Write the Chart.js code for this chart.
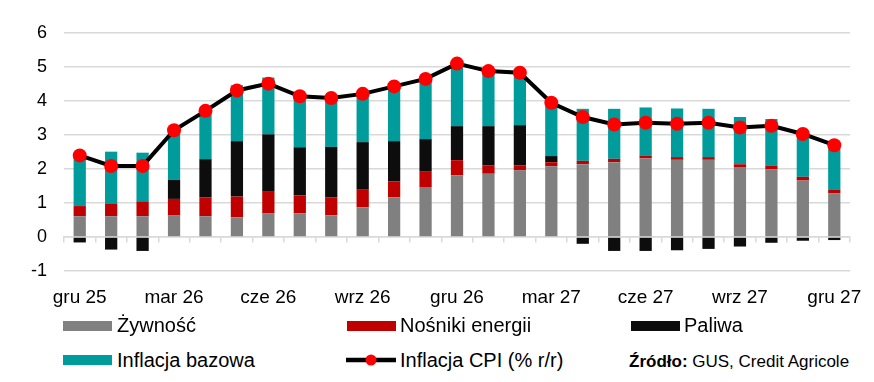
<!DOCTYPE html>
<html lang="pl">
<head>
<meta charset="utf-8">
<script src="https://cdn.jsdelivr.net/npm/chart.js@4"></script>
<style>
  html, body { margin: 0; padding: 0; background: #fff; }
  body { width: 874px; height: 382px; position: relative; overflow: hidden; font-family: "Liberation Sans", Arial, sans-serif; color: #000; }
  #wrap { position: absolute; left: 0; top: 0; width: 874px; height: 320px; }
  .lg { position: absolute; font-size: 20px; line-height: 20px; white-space: nowrap; }
  .sw { position: absolute; width: 49px; height: 10px; }
  .src { position: absolute; font-size: 17px; line-height: 18px; white-space: nowrap; }
</style>
</head>
<body>
<div id="wrap"><canvas id="c"></canvas></div>

<div class="sw" style="left:63px;top:321px;background:#808080"></div>
<div class="lg" style="left:117px;top:315px">Żywność</div>
<div class="sw" style="left:347px;top:321px;background:#C00000"></div>
<div class="lg" style="left:400px;top:315px">Nośniki energii</div>
<div class="sw" style="left:631px;top:321px;background:#0D0D0D"></div>
<div class="lg" style="left:684px;top:315px">Paliwa</div>

<div class="sw" style="left:63px;top:355px;background:#009B9B"></div>
<div class="lg" style="left:117px;top:350px">Inflacja bazowa</div>
<svg style="position:absolute;left:345px;top:352px" width="52" height="16">
  <line x1="1" y1="8" x2="51" y2="8" stroke="#000" stroke-width="4.5"/>
  <circle cx="26" cy="8" r="5.5" fill="#FF0000"/>
</svg>
<div class="lg" style="left:400px;top:350px">Inflacja CPI (% r/r)</div>
<div class="src" style="left:629px;top:353px"><b>Źródło:</b> GUS, Credit Agricole</div>

<script>
const categories = ['gru 25','sty 26','lut 26','mar 26','kwi 26','maj 26','cze 26','lip 26','sie 26','wrz 26','paź 26','lis 26',
  'gru 26','sty 27','lut 27','mar 27','kwi 27','maj 27','cze 27','lip 27','sie 27','wrz 27','paź 27','lis 27','gru 27'];
const zywnosc = [0.61,0.61,0.61,0.63,0.61,0.58,0.69,0.70,0.64,0.87,1.17,1.47,1.81,1.86,1.96,2.08,2.14,2.20,2.31,2.27,2.27,2.04,1.99,1.66,1.29];
const nosniki = [0.30,0.36,0.44,0.49,0.56,0.61,0.64,0.52,0.53,0.52,0.46,0.45,0.45,0.24,0.15,0.12,0.10,0.10,0.09,0.08,0.08,0.10,0.10,0.11,0.11];
const paliwa  = [-0.16,-0.37,-0.41,0.56,1.12,1.63,1.69,1.42,1.48,1.40,1.19,0.96,1.00,1.16,1.18,0.18,-0.20,-0.41,-0.41,-0.39,-0.35,-0.28,-0.17,-0.11,-0.09];
const bazowa  = [1.49,1.54,1.43,1.42,1.39,1.64,1.67,1.48,1.40,1.39,1.58,1.72,1.79,1.59,1.51,1.49,1.53,1.47,1.41,1.43,1.42,1.39,1.38,1.17,1.20];
const cpi     = [2.40,2.09,2.09,3.14,3.71,4.31,4.51,4.14,4.09,4.21,4.43,4.65,5.10,4.88,4.83,3.95,3.53,3.31,3.36,3.33,3.36,3.22,3.27,3.03,2.70];
const yTicks  = [-1,0,1,2,3,4,5,6];
const shownLabels = ['gru 25','mar 26','cze 26','wrz 26','gru 26','mar 27','cze 27','wrz 27','gru 27'];

const barCommon = { type: 'bar', stack: 'comp', order: 1, barPercentage: 0.39, categoryPercentage: 1.0, borderWidth: 0 };
const GRID = '#D9D9D9';

new Chart(document.getElementById('c'), {
  data: {
    labels: categories,
    datasets: [
      Object.assign({ label: 'Żywność', data: zywnosc, backgroundColor: '#808080' }, barCommon),
      Object.assign({ label: 'Nośniki energii', data: nosniki, backgroundColor: '#C00000' }, barCommon),
      Object.assign({ label: 'Paliwa', data: paliwa, backgroundColor: '#0D0D0D' }, barCommon),
      Object.assign({ label: 'Inflacja bazowa', data: bazowa, backgroundColor: '#009B9B' }, barCommon),
      { type: 'line', label: 'Inflacja CPI (% r/r)', data: cpi, stack: 'cpi', order: 0,
        borderColor: '#000', borderWidth: 4, tension: 0,
        pointRadius: 7, pointBackgroundColor: '#FF0000', pointBorderWidth: 0, pointHoverRadius: 7 }
    ]
  },
  options: {
    responsive: true, maintainAspectRatio: false, animation: false,
    layout: { padding: { top: 33, right: 24, bottom: 0, left: 0 } },
    plugins: { legend: { display: false }, tooltip: { enabled: false } },
    scales: {
      x: {
        stacked: true, offset: true,
        grid: { display: false, offset: true },
        border: { display: false },
        ticks: {
          autoSkip: false, maxRotation: 0, padding: 7, color: '#000',
          font: { family: 'Liberation Sans', size: 19 },
          callback: function(v, i) { const l = this.getLabelForValue(v); return shownLabels.includes(l) ? l : ''; }
        },
        afterFit: (s) => { s.height = 49; }
      },
      x2: {
        type: 'category', position: { y: 0 }, offset: true,
        grid: { drawOnChartArea: false, drawTicks: true, tickLength: 5, color: GRID, lineWidth: 1.5, offset: true },
        border: { display: true, color: GRID, width: 1.5 },
        ticks: { display: false }
      },
      y: {
        stacked: true, min: -1, max: 6,
        afterBuildTicks: (s) => { s.ticks = yTicks.map(v => ({ value: v })); },
        grid: { color: GRID, lineWidth: 1.5, drawTicks: false },
        border: { display: false },
        ticks: { padding: 17, color: '#000', font: { family: 'Liberation Sans', size: 18 } },
        afterFit: (s) => { s.width = 64; }
      }
    }
  }
});
</script>
</body>
</html>
